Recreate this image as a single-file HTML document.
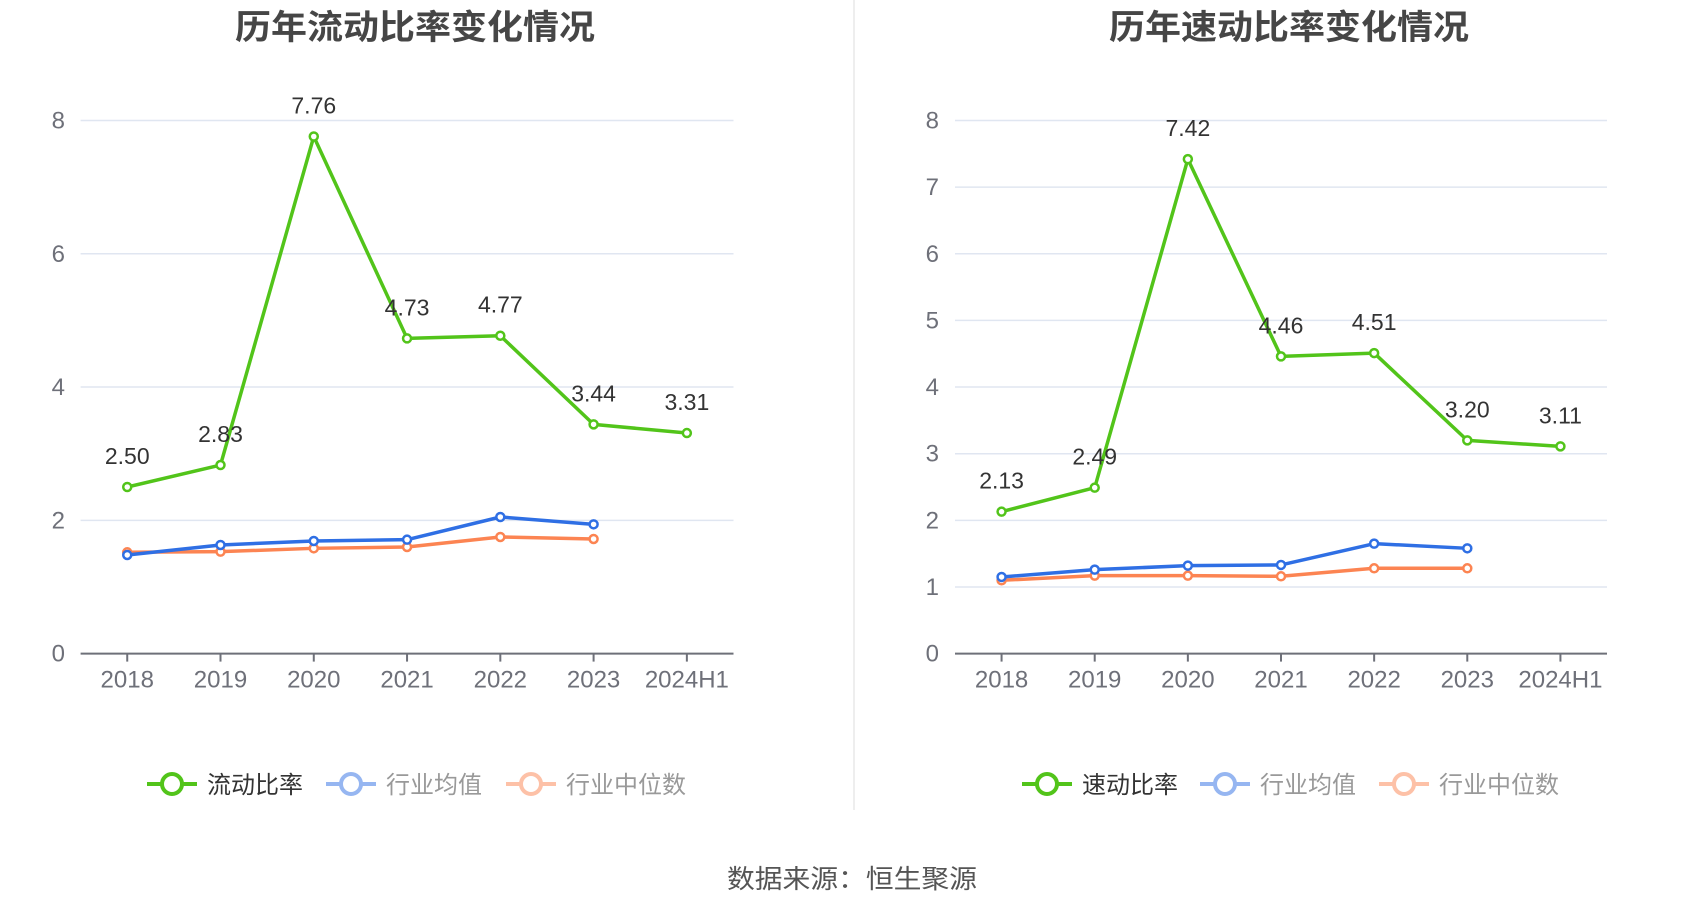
<!DOCTYPE html>
<html><head><meta charset="utf-8"><style>
html,body{margin:0;padding:0;background:#fff;}
svg{display:block;font-family:"Liberation Sans","Noto Sans CJK SC",sans-serif;}
</style></head><body>
<svg id="root" width="1700" height="918" viewBox="0 0 1700 918">
<rect x="853" y="0" width="2" height="810" fill="#eeeeee"/>
<text x="852" y="888" text-anchor="middle" font-size="26" fill="#555" textLength="250" lengthAdjust="spacingAndGlyphs">数据来源：恒生聚源</text>
</svg>
<script>
const categories = ["2018","2019","2020","2021","2022","2023","2024H1"];
const currentRatio = [2.50,2.83,7.76,4.73,4.77,3.44,3.31];
const currentIndustryAvg = [1.48,1.63,1.69,1.71,2.05,1.94];
const currentIndustryMedian = [1.52,1.53,1.58,1.60,1.75,1.72];
const currentTicks = [0,2,4,6,8];
const quickRatio = [2.13,2.49,7.42,4.46,4.51,3.20,3.11];
const quickIndustryAvg = [1.15,1.26,1.32,1.33,1.65,1.58];
const quickIndustryMedian = [1.10,1.17,1.17,1.16,1.28,1.28];
const quickTicks = [0,1,2,3,4,5,6,7,8];

const NS = "http://www.w3.org/2000/svg";
const root = document.getElementById('root');
function mk(tag, attrs, parent, text){
  const e = document.createElementNS(NS, tag);
  for (const k in attrs) e.setAttribute(k, attrs[k]);
  if (text !== undefined) e.textContent = text;
  (parent || root).appendChild(e);
  return e;
}

function drawChart(cfg){
  const g = mk('g', {});
  
  
  const x0 = cfg.axisL, x1 = cfg.axisR, yTop = 120.5, yBot = 653.6, maxV = 8;
  const step = (x1 - x0) / categories.length;
  const xs = i => x0 + step * (i + 0.5);
  const ys = v => yBot - v / maxV * (yBot - yTop);

  const t = mk('text', {x: cfg.titleX, y: 39, 'text-anchor': 'middle', 'font-size': 34, 'font-weight': 'bold', fill: '#464646', textLength: 360, lengthAdjust: 'spacingAndGlyphs'}, g, cfg.title);
  
  

  cfg.ticks.forEach(v => {
    if (v > 0) {
      const gl = mk('line', {x1: x0, x2: x1, y1: ys(v), y2: ys(v), stroke: '#e0e6f1', 'stroke-width': 1.5}, g);
      
      
    }
    const tl = mk('text', {x: cfg.tickX, y: ys(v) + 8, 'text-anchor': 'end', 'font-size': 24, fill: '#6e7079'}, g, String(v));
    
    
  });
  const ax = mk('line', {x1: x0, x2: x1, y1: yBot, y2: yBot, stroke: '#6e7079', 'stroke-width': 2}, g);
  
  
  categories.forEach((c, i) => {
    const tk = mk('line', {x1: xs(i), x2: xs(i), y1: yBot, y2: yBot + 8, stroke: '#6e7079', 'stroke-width': 2}, g);
    
    
    const xl = mk('text', {x: xs(i), y: yBot + 34, 'text-anchor': 'middle', 'font-size': 24, fill: '#6e7079'}, g, c);
    
    
  });

  const series = [
    {vals: cfg.median, color: '#fc8452', name: 'industry-median-line'},
    {vals: cfg.avg, color: '#2f6fe4', name: 'industry-average-line'},
    {vals: cfg.main, color: '#52c41a', name: cfg.id + '-line', labels: true}
  ];
  series.forEach(s => {
    const pts = s.vals.map((v, i) => xs(i) + ',' + ys(v)).join(' ');
    const pl = mk('polyline', {points: pts, fill: 'none', stroke: s.color, 'stroke-width': 3.5, 'stroke-linejoin': 'round'}, g);
    
    
    s.vals.forEach((v, i) => {
      const c = mk('circle', {cx: xs(i), cy: ys(v), r: 4, fill: '#fff', stroke: s.color, 'stroke-width': 2.5}, g);
      
      
      if (s.labels) {
        const lb = mk('text', {x: xs(i), y: ys(v) - 23, 'text-anchor': 'middle', 'font-size': 23, fill: '#333'}, g, v.toFixed(2));
        
        
      }
    });
  });

  const legend = [
    {lx: cfg.leg[0], color: '#52c41a', text: cfg.legName, tc: '#333', op: 1},
    {lx: cfg.leg[1], color: '#2f6fe4', text: '行业均值', tc: '#999', op: 0.5},
    {lx: cfg.leg[2], color: '#fc8452', text: '行业中位数', tc: '#999', op: 0.5}
  ];
  legend.forEach((l, k) => {
    const lg = mk('g', {}, g);
    
    
    const sym = mk('g', {opacity: l.op}, lg);
    mk('line', {x1: l.lx, x2: l.lx + 50, y1: 784, y2: 784, stroke: l.color, 'stroke-width': 4}, sym);
    mk('circle', {cx: l.lx + 25, cy: 784, r: 10, fill: '#fff', stroke: l.color, 'stroke-width': 4}, sym);
    mk('text', {x: l.lx + 60, y: 793, 'font-size': 24, fill: l.tc, textLength: l.text.length * 24, lengthAdjust: 'spacingAndGlyphs'}, lg, l.text);
  });
}

drawChart({id: 'current-ratio', title: '历年流动比率变化情况', legName: '流动比率', axisL: 80.6, axisR: 733.5, titleX: 415, tickX: 65,
  ticks: currentTicks, main: currentRatio, avg: currentIndustryAvg, median: currentIndustryMedian, leg: [147, 326, 506]});
drawChart({id: 'quick-ratio', title: '历年速动比率变化情况', legName: '速动比率', axisL: 955, axisR: 1607, titleX: 1289, tickX: 939,
  ticks: quickTicks, main: quickRatio, avg: quickIndustryAvg, median: quickIndustryMedian, leg: [1022, 1200, 1379]});
</script>
</body></html>
